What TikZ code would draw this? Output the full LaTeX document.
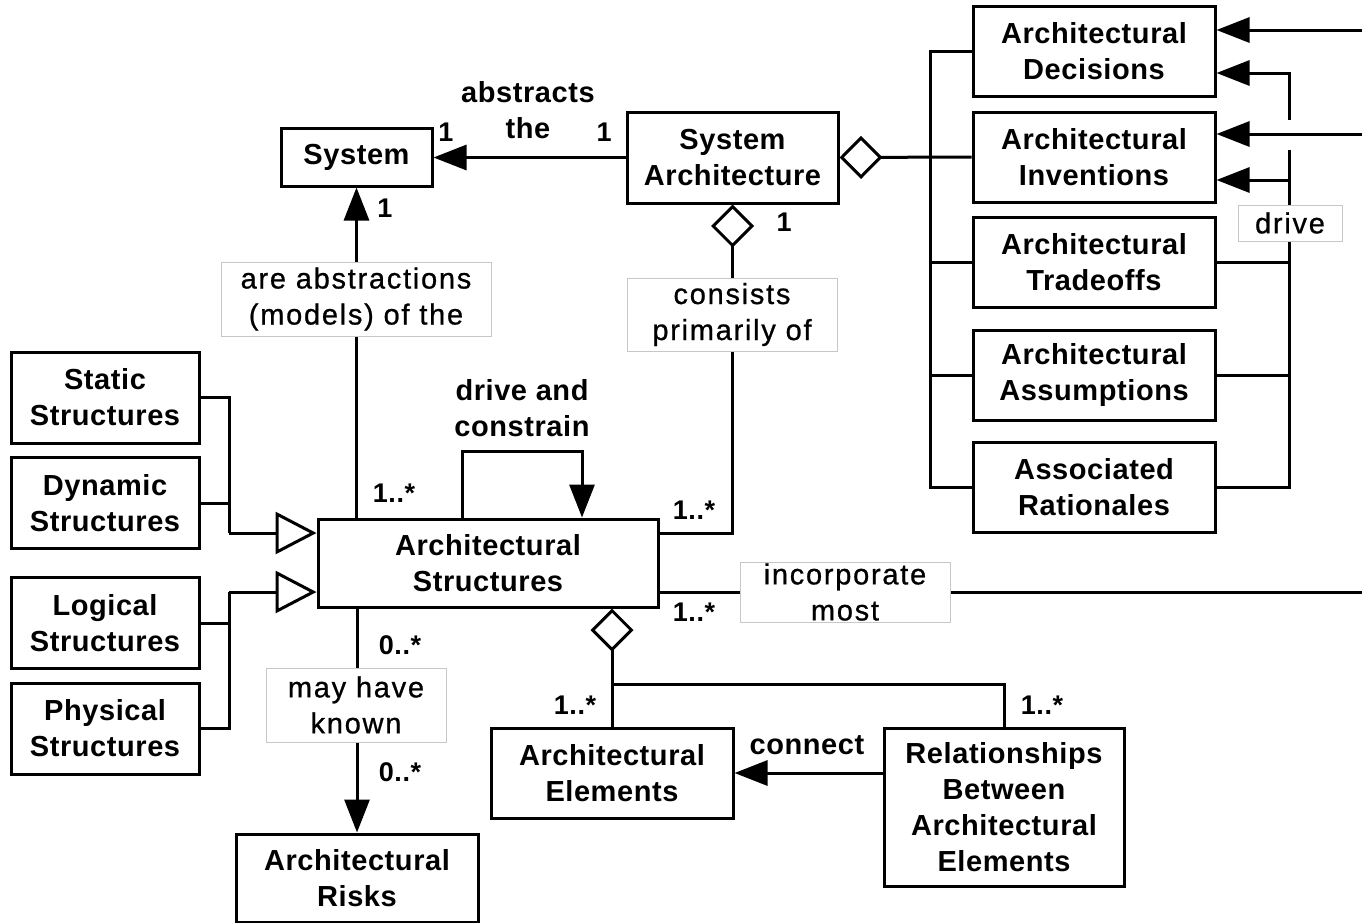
\documentclass[tikz,border=0pt]{standalone}
\usepackage{fontspec}
\setmainfont{Liberation Sans}[LetterSpace=2]
\newfontfamily\lblfont{Liberation Sans}[LetterSpace=6,FakeBold=0.8]
\usetikzlibrary{arrows.meta}
\begin{document}
\begin{tikzpicture}[x=1pt,y=-1pt,
  line width=3pt,
  every node/.style={font=\bfseries\fontsize{29}{36}\selectfont, align=center, inner sep=0pt},
  box/.style={draw, line width=3pt, fill=white},
  lbl/.style={draw=black!22, line width=1pt, fill=white, font=\lblfont\fontsize{29}{36}\selectfont},
  mult/.style={font=\bfseries\fontsize{27}{32}\selectfont},
  arr/.style={-{Triangle[length=33pt,width=25pt]}},
  agg/.style={{Diamond[length=43pt,width=43pt,fill=white,line width=3pt]}-},
  gen/.style={-{Triangle[length=41pt,width=42pt,fill=white,line width=3pt]}}
]
\useasboundingbox (0,0) rectangle (1362,922);

% classes
\node[box, minimum width=151pt, minimum height=58pt] (sys) at (356.5,157) {System};
\node[box, minimum width=211pt, minimum height=91pt] (sa) at (732.5,157.5) {System\\Architecture};

\node[box, minimum width=242pt, minimum height=90pt] (dec) at (1094,51.5) {Architectural\\Decisions};
\node[box, minimum width=242pt, minimum height=90pt] (inv) at (1094,157) {Architectural\\Inventions};
\node[box, minimum width=242pt, minimum height=90pt] (trd) at (1094,262) {Architectural\\Tradeoffs};
\node[box, minimum width=242pt, minimum height=90pt] (asm) at (1094,375) {Architectural\\Assumptions};
\node[box, minimum width=242pt, minimum height=90pt] (rat) at (1094,487.5) {Associated\\Rationales};

\node[box, minimum width=188pt, minimum height=91pt] (sta) at (105,397.5) {Static\\Structures};
\node[box, minimum width=188pt, minimum height=91pt] (dyn) at (105,503) {Dynamic\\Structures};
\node[box, minimum width=188pt, minimum height=91pt] (lgc) at (105,623) {Logical\\Structures};
\node[box, minimum width=188pt, minimum height=91pt] (phy) at (105,728.5) {Physical\\Structures};

\node[box, minimum width=340pt, minimum height=88pt] (as) at (488,563) {Architectural\\Structures};
\node[box, minimum width=242pt, minimum height=88pt] (risk) at (357,878) {Architectural\\Risks};
\node[box, minimum width=242pt, minimum height=90pt] (ae) at (612,773) {Architectural\\Elements};
\node[box, minimum width=240pt, minimum height=158pt] (rel) at (1004,807) {Relationships\\Between\\Architectural\\Elements};

% helper points
\coordinate (tr) at (930,0);
\coordinate (busA) at (1289,120);
\coordinate (busB) at (1289,150);
\coordinate (inA) at (1362,30);
\coordinate (inB) at (1362,134);
\coordinate (outR) at (1362,592);
\coordinate (g1) at (229,533);
\coordinate (g2) at (229,592);
\coordinate (j) at (612,684);

% system architecture abstracts the system
\draw[arr] (sa.west) -- (sa.west -| sys.east);

% aggregation of the decision artefacts
\draw[agg] (sa.east) -- (inv.west);
\draw (dec.west) -- (dec.west -| tr) -- (rat.west -| tr) -- (rat.west);
\draw (trd.west) -- (trd.west -| tr);
\draw (asm.west) -- (asm.west -| tr);

% incoming drivers from the right
\draw[arr] (inA) -- (inA -| dec.east);
\draw[arr] (inB) -- (inB -| inv.east);

% drive bus
\draw[arr] (busA) |- ([yshift=-21.5pt]dec.east);
\draw[arr] (busB) |- ([yshift=-23pt]inv.east);
\draw (rat.east) -| (busB);
\draw (trd.east) -- (trd.east -| busB);
\draw (asm.east) -- (asm.east -| busB);

% structures are abstractions of the system
\draw[arr] (as.north -| sys.south) -- (sys.south);

% drive and constrain (self association)
\draw[arr] ([xshift=-26pt]as.north) -- ++(0,-66) -| ([xshift=94pt]as.north);

% consists primarily of
\draw[agg] (sa.south) |- ([yshift=30pt]as.east);

% incorporate most
\draw ([yshift=-29pt]as.east) -- (outR);

% generalizations
\draw (sta.east) -| (g1);
\draw (dyn.east) -| (g1);
\draw[gen] (g1) -- (g1 -| as.west);
\draw (lgc.east) -| (g2);
\draw (phy.east) -| (g2);
\draw[gen] (g2) -- (g2 -| as.west);

% may have known risks
\draw[arr] (as.south -| risk.north) -- (risk.north);

% elements and relationships
\draw[agg] (as.south -| ae.north) -- (ae.north);
\draw (j) -| (rel.north);
\draw[arr] (rel.west |- ae.east) -- (ae.east);

% association labels
\node[lbl, minimum width=270pt, minimum height=74pt] (l1) at (356,299) {are abstractions\\(models) of the};
\node[lbl, minimum width=210pt, minimum height=73pt] (l2) at (732,314.5) {consists\\primarily of};
\node[lbl, minimum width=180pt, minimum height=74pt] (l3) at (356,705) {may have\\known};
\node[lbl, minimum width=210pt, minimum height=60pt] (l4) at (845,592) {incorporate\\most};
\node[lbl, minimum width=104pt, minimum height=36pt] (l5) at (1290,223) {drive};

\node (t1) at (528,110) {abstracts\\the};
\node (t2) at (522,408) {drive and\\constrain};
\node (t3) at (807,745) {connect};

% multiplicities
\node[mult] (m1) at (446,132) {1};
\node[mult] (m2) at (604,132) {1};
\node[mult] (m3) at (385,208) {1};
\node[mult] (m4) at (784,222) {1};
\node[mult] (m5) at (394,493) {1..*};
\node[mult] (m6) at (694,510) {1..*};
\node[mult] (m7) at (694,612) {1..*};
\node[mult] (m8) at (400,645) {0..*};
\node[mult] (m9) at (400,772) {0..*};
\node[mult] (m10) at (575,705) {1..*};
\node[mult] (m11) at (1042,705) {1..*};
\end{tikzpicture}
\end{document}
